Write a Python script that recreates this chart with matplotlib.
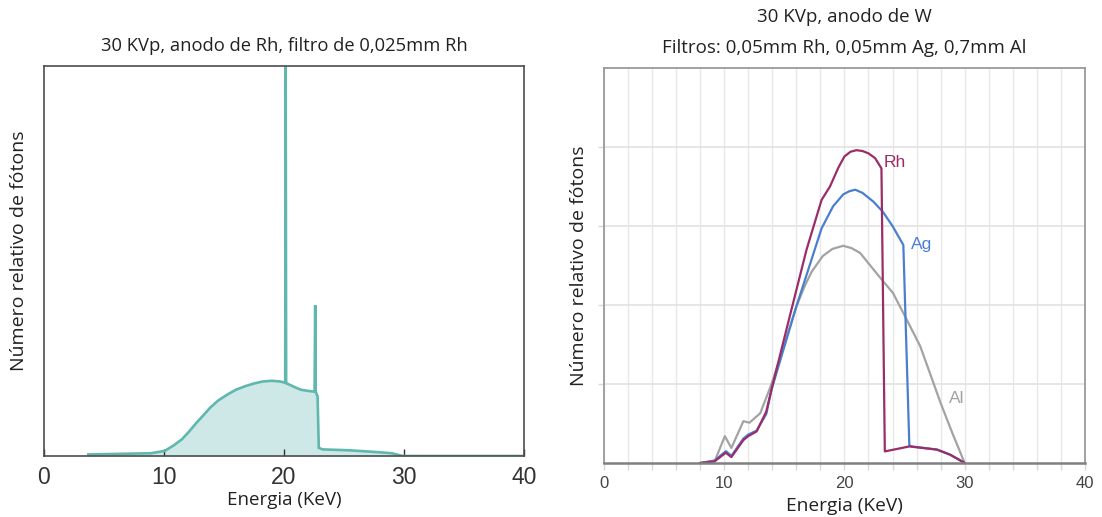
"""X-ray spectra for mammography: Rh anode vs W anode with three filters."""

import matplotlib.pyplot as plt
from matplotlib.ticker import MultipleLocator

plt.rcParams["font.family"] = ["Open Sans", "DejaVu Sans"]

# --- Rh anode, 0.025 mm Rh filter (relative photon count, peak clipped) ---
rh_anode_kev = [3.7, 8.9, 10.06, 10.8, 11.5, 12.1, 12.7, 13.3, 13.85, 14.5,
                15.3, 16.0, 16.76, 17.5, 18.2, 19.0, 19.7, 20.1, 20.14, 20.18,
                20.8, 21.4, 22.0, 22.55, 22.6, 22.65, 22.8, 22.9, 23.2, 25.5,
                28.0, 29.0, 29.9, 40.0]
rh_anode_counts = [0.004, 0.007, 0.013, 0.027, 0.043, 0.063, 0.085, 0.105, 0.124, 0.142,
                   0.158, 0.170, 0.179, 0.186, 0.191, 0.193, 0.191, 0.188, 1.05, 0.187,
                   0.178, 0.170, 0.167, 0.165, 0.387, 0.164, 0.153, 0.021, 0.017, 0.0145,
                   0.0095, 0.007, 0.0, 0.0]

# --- W anode, 30 kVp, three filters (relative photon count) ---
rh_filter_kev = [8.0, 9.2, 9.92, 10.14, 10.6, 11.6, 12.0, 12.7, 13.5, 14.0,
                 15.46, 16.85, 18.1, 18.8, 19.5, 20.0, 20.5, 21.0, 21.5, 22.0,
                 22.55, 23.08, 23.36, 25.4, 27.7, 28.8, 29.9, 30.0]
rh_filter_counts = [0.0, 0.02, 0.105, 0.13, 0.075, 0.29, 0.34, 0.40, 0.65, 0.97,
                    1.86, 2.70, 3.33, 3.50, 3.74, 3.88, 3.94, 3.96, 3.95, 3.92,
                    3.86, 3.73, 0.147, 0.21, 0.17, 0.105, 0.01, 0.0]

ag_filter_kev = [8.0, 9.2, 9.9, 10.15, 10.6, 11.6, 12.0, 12.7, 13.5, 13.94,
                 16.0, 17.0, 18.1, 19.06, 19.9, 20.4, 20.9, 21.5, 22.4, 23.2,
                 24.0, 24.9, 25.4, 25.6, 27.7, 28.8, 29.9, 30.0]
ag_filter_counts = [0.0, 0.03, 0.12, 0.15, 0.09, 0.31, 0.36, 0.41, 0.62, 0.93,
                    1.98, 2.45, 2.97, 3.25, 3.40, 3.44, 3.46, 3.42, 3.31, 3.18,
                    3.0, 2.76, 0.22, 0.21, 0.17, 0.105, 0.01, 0.0]

al_filter_kev = [8.0, 9.23, 10.06, 10.6, 11.6, 12.1, 13.0, 13.94, 15.0, 16.0,
                 16.7, 17.27, 18.2, 19.0, 19.9, 20.6, 21.3, 22.9, 24.05, 25.2,
                 26.3, 27.2, 28.0, 29.0, 30.0]
al_filter_counts = [0.0, 0.03, 0.34, 0.19, 0.53, 0.51, 0.63, 1.0, 1.5, 1.98,
                    2.24, 2.42, 2.62, 2.71, 2.75, 2.72, 2.66, 2.36, 2.15, 1.81,
                    1.48, 1.10, 0.76, 0.37, 0.0]

filter_names = ["Rh", "Ag", "Al"]
filter_colors = ["#9a2d68", "#4a7fcf", "#a3a3a3"]
label_kev = [24.2, 26.4, 29.3]
label_counts = [3.80, 2.76, 0.82]

energy_ticks = [0, 10, 20, 30, 40]

fig = plt.figure(figsize=(11.02, 5.17), dpi=100)

# ─── left panel ──────────────────────────────────────────────────────────────
ax1 = fig.add_axes([0.0399, 0.118, 0.4356, 0.754])
ax1.fill_between(rh_anode_kev, rh_anode_counts, color="#cde8e7", lw=0)
ax1.plot(rh_anode_kev, rh_anode_counts, color="#5fb7ae", lw=1.9,
         solid_joinstyle="miter")
ax1.set_xlim(0, 40)
ax1.set_ylim(0, 1)
ax1.set_xticks(energy_ticks)
ax1.set_yticks([])
ax1.tick_params(axis="x", direction="in", length=5, width=1, color="#333333",
                labelsize=16.5, labelcolor="#333333", pad=7)
for label in ax1.get_xticklabels():
    label.set_family(["Liberation Sans", "DejaVu Sans"])
for spine in ax1.spines.values():
    spine.set_color("#4d4d4d")
    spine.set_linewidth(1.2)
ax1.set_title("30 KVp, anodo de Rh, filtro de 0,025mm Rh", fontsize=13.2,
              color="#222222", pad=11)
ax1.set_xlabel("Energia (KeV)", fontsize=13.5, color="#222222", labelpad=2)
ax1.set_ylabel("Número relativo de fótons", fontsize=14, color="#222222")
ax1.yaxis.set_label_coords(-0.033, 0.526)

# ─── right panel ─────────────────────────────────────────────────────────────
ax2 = fig.add_axes([0.548, 0.1044, 0.4365, 0.764])
spectra = [(rh_filter_kev, rh_filter_counts), (ag_filter_kev, ag_filter_counts),
           (al_filter_kev, al_filter_counts)]
# grey first so the two K-edge filters sit on top
for (kev, counts), name, color in list(zip(spectra, filter_names, filter_colors))[::-1]:
    ax2.plot(kev, counts, color=color, lw=1.6)
for name, color, x, y in zip(filter_names, filter_colors, label_kev, label_counts):
    ax2.text(x, y, name, color=color, fontsize=12.5, ha="center", va="center",
             family=["Liberation Sans", "DejaVu Sans"])

ax2.set_xlim(0, 40)
ax2.set_ylim(0, 5)
ax2.set_xticks(energy_ticks)
ax2.xaxis.set_minor_locator(MultipleLocator(2))
ax2.set_yticks([1, 2, 3, 4])
ax2.set_yticklabels([])
ax2.grid(which="minor", axis="x", color="#e8e8e8", lw=1)
ax2.grid(which="major", axis="x", color="#e8e8e8", lw=1)
ax2.grid(which="major", axis="y", color="#e2e2e2", lw=1.2)
ax2.set_axisbelow(True)
ax2.tick_params(axis="x", which="both", direction="out", length=5, width=1,
                color="#d8d8d8", labelsize=12, labelcolor="#444444", pad=4)
ax2.tick_params(axis="y", direction="out", length=4, width=1, color="#d8d8d8")
for label in ax2.get_xticklabels():
    label.set_family(["Liberation Sans", "DejaVu Sans"])
for spine in ax2.spines.values():
    spine.set_color("#9a9a9a")
    spine.set_linewidth(1.3)
ax2.spines["bottom"].set_color("#808080")
ax2.spines["bottom"].set_linewidth(1.8)
ax2.set_title("30 KVp, anodo de W\nFiltros: 0,05mm Rh, 0,05mm Ag, 0,7mm Al",
              fontsize=13.5, color="#222222", pad=11, linespacing=1.92)
ax2.set_xlabel("Energia (KeV)", fontsize=13.8, color="#222222", labelpad=5)
ax2.set_ylabel("Número relativo de fótons", fontsize=14, color="#222222")
ax2.yaxis.set_label_coords(-0.033, 0.5)

fig.savefig("out.png", dpi=100)
